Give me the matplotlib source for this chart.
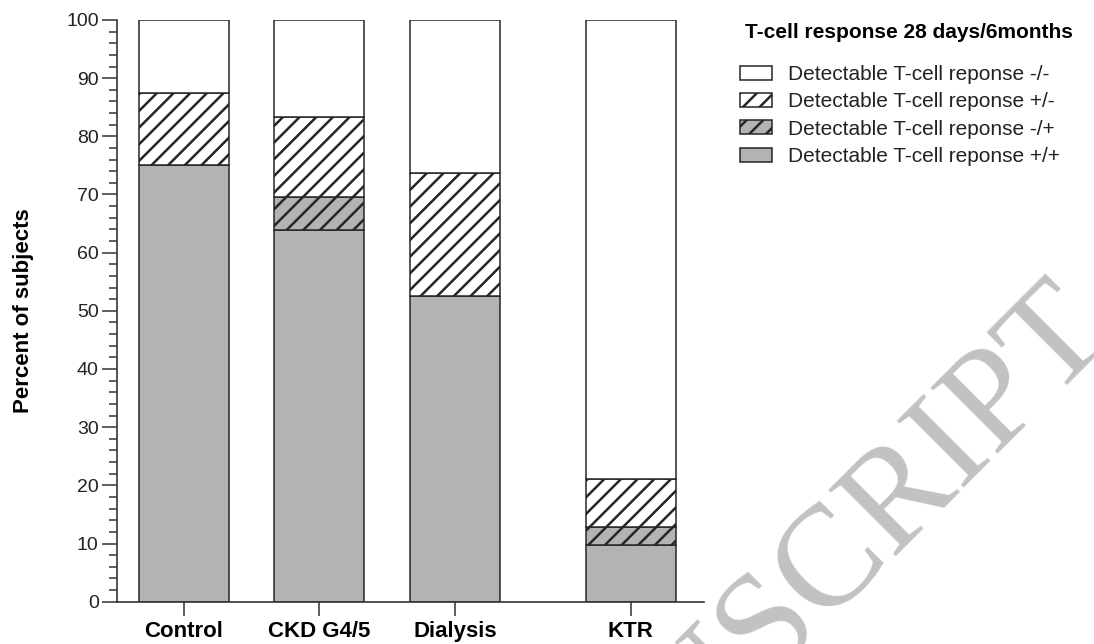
import matplotlib
matplotlib.use('Agg')
import matplotlib.pyplot as plt
from matplotlib.patches import Patch
from matplotlib.ticker import MultipleLocator
import numpy as np

plt.rcParams['font.family'] = ['Liberation Sans', 'DejaVu Sans']
plt.rcParams['hatch.linewidth'] = 1.8

# percent of subjects per group, stacked from the bottom up
groups = ['Control', 'CKD G4/5', 'Dialysis', 'KTR']
x_pos = [0, 1, 2, 3.3]
pos_pos = [75.0, 63.9, 52.6, 9.7]    # +/+
neg_pos = [0.0, 5.6, 0.0, 3.2]       # -/+
pos_neg = [12.5, 13.9, 21.1, 8.2]    # +/-
neg_neg = [12.5, 16.6, 26.3, 78.9]   # -/-

labels = ['Detectable T-cell reponse -/-',
          'Detectable T-cell reponse +/-',
          'Detectable T-cell reponse -/+',
          'Detectable T-cell reponse +/+']

GRAY = '#b3b3b3'
EDGE = '#262626'

fig = plt.figure(figsize=(10.94, 6.44), dpi=100)
ax = fig.add_axes([0.1067, 0.0657, 0.5368, 0.9033])

w = 0.665
b = np.zeros(len(groups))
layers = [(pos_pos, GRAY, None), (neg_pos, GRAY, '//'),
          (pos_neg, 'white', '//'), (neg_neg, 'white', None)]
for vals, fc, h in layers:
    ax.bar(x_pos, vals, w, bottom=b, color=fc, edgecolor=EDGE,
           linewidth=1.1, hatch=h)
    b = b + np.array(vals)

ax.set_xlim(-0.497, 3.84)
ax.set_ylim(0, 100)
ax.spines['top'].set_visible(False)
ax.spines['right'].set_visible(False)
for s in ['left', 'bottom']:
    ax.spines[s].set_color('#333333')
    ax.spines[s].set_linewidth(1.2)

ax.yaxis.set_major_locator(MultipleLocator(10))
ax.yaxis.set_minor_locator(MultipleLocator(2))
ax.tick_params(axis='y', which='major', length=11, width=1.1, color='#333333',
               labelsize=14, labelcolor='#222222', pad=2)
ax.tick_params(axis='y', which='minor', length=6, width=1.1, color='#333333')
ax.set_xticks(x_pos)
ax.set_xticklabels(groups, fontweight='bold', fontsize=16)
ax.tick_params(axis='x', length=10, width=1.1, color='#333333', pad=4)

ax.set_ylabel('Percent of subjects', fontweight='bold', fontsize=16, labelpad=23)

handles = [Patch(facecolor='white', edgecolor=EDGE, linewidth=1.1),
           Patch(facecolor='white', edgecolor=EDGE, linewidth=1.1, hatch='//'),
           Patch(facecolor=GRAY, edgecolor=EDGE, linewidth=1.1, hatch='//'),
           Patch(facecolor=GRAY, edgecolor=EDGE, linewidth=1.1)]
fig.text(745 / 1094, 1 - 32 / 644, 'T-cell response 28 days/6months',
         fontsize=15, fontweight='bold', va='center', ha='left')
leg = fig.legend(handles, labels, loc='upper left',
                 bbox_to_anchor=(740 / 1094, 1 - 65 / 644),
                 frameon=False, fontsize=15,
                 handlelength=1.54, handleheight=0.67, handletextpad=0.77,
                 labelspacing=0.4, borderpad=0, borderaxespad=0)
for t in leg.get_texts():
    t.set_color('#222222')

# journal watermark
fig.text(1.018, 0.475, 'ACCEPTED MANUSCRIPT', fontsize=104,
         family=['Liberation Serif', 'DejaVu Serif'], color='#c2c2c2',
         rotation=45, rotation_mode='anchor', ha='right', va='baseline',
         zorder=0)

fig.savefig('out.png', dpi=100)
